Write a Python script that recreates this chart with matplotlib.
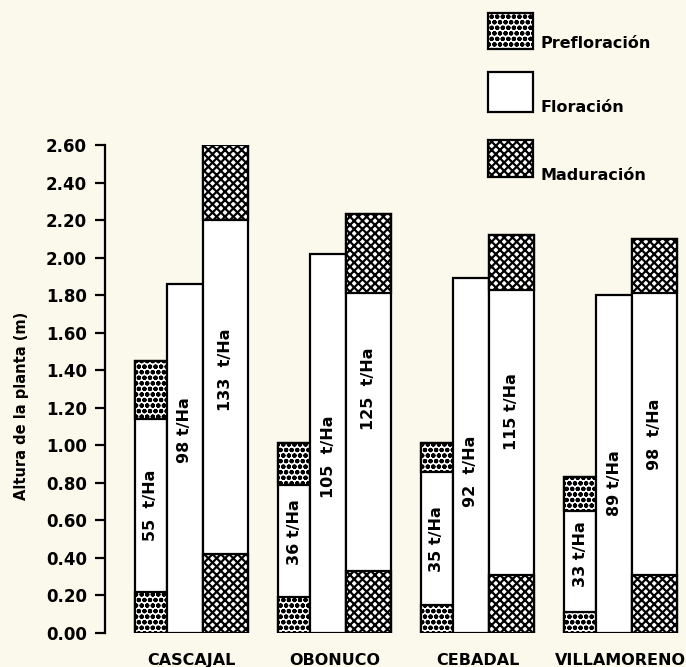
import matplotlib
matplotlib.use("Agg")
import matplotlib.pyplot as plt
from matplotlib.patches import Rectangle

plt.rcParams['font.family'] = ['DejaVu Sans']
plt.rcParams['font.weight'] = 'bold'
plt.rcParams['axes.labelweight'] = 'bold'

# data (plant height in m)
sites = ['CASCAJAL', 'OBONUCO', 'CEBADAL', 'VILLAMORENO']
pre_top = [1.45, 1.01, 1.01, 0.83]
pre_base = [0.22, 0.19, 0.15, 0.11]
pre_upper = [1.14, 0.79, 0.86, 0.65]
flo_top = [1.86, 2.02, 1.89, 1.80]
mad_top = [2.60, 2.23, 2.12, 2.10]
mad_base = [0.42, 0.33, 0.31, 0.31]
mad_upper = [2.20, 1.81, 1.83, 1.81]

pre_yield = ['55  t/Ha', '36 t/Ha', '35 t/Ha', '33 t/Ha']
flo_yield = ['98 t/Ha', '105  t/Ha', '92  t/Ha', '89 t/Ha']
mad_yield = ['133  t/Ha', '125  t/Ha', '115 t/Ha', '98  t/Ha']
pre_lab_y = [0.68, 0.54, 0.50, 0.42]
flo_lab_y = [1.08, 0.94, 0.86, 0.80]
mad_lab_y = [1.40, 1.30, 1.18, 1.06]

yticks = [0.0, 0.2, 0.4, 0.6, 0.8, 1.0, 1.2, 1.4, 1.6, 1.8, 2.0, 2.2, 2.4, 2.6]

bg = '#fbf9ec'
DOTS = 'ooo'
CROSS = 'xxxx'

fig = plt.figure(figsize=(6.86, 6.67), dpi=100, facecolor=bg)
ax = fig.add_axes([105 / 686, 34 / 667, 581 / 686, 488 / 667])
ax.set_facecolor(bg)

widths = [32, 36, 45]
step = 143
first = 30


def seg(x, w, y0, y1, hatch=None, hlw=1.0):
    plt.rcParams['hatch.linewidth'] = hlw
    ax.bar(x, y1 - y0, width=w, bottom=y0, align='edge', color='white',
           edgecolor='black', linewidth=1.6, hatch=hatch)


for i, name in enumerate(sites):
    x0 = first + i * step
    x1 = x0 + widths[0]
    x2 = x1 + widths[1]
    # bar 1: prefloracion
    seg(x0, widths[0], 0, pre_top[i])
    seg(x0, widths[0], 0, pre_base[i], DOTS, 1.5)
    seg(x0, widths[0], pre_upper[i], pre_top[i], DOTS, 1.5)
    # bar 2: floracion
    seg(x1, widths[1], 0, flo_top[i])
    # bar 3: maduracion
    seg(x2, widths[2], 0, mad_top[i])
    seg(x2, widths[2], 0, mad_base[i], CROSS, 1.6)
    seg(x2, widths[2], mad_upper[i], mad_top[i], CROSS, 1.6)

    ax.text(x0 + widths[0] / 2, pre_lab_y[i], pre_yield[i], rotation=90,
            ha='center', va='center', fontsize=11.5)
    ax.text(x1 + widths[1] / 2, flo_lab_y[i], flo_yield[i], rotation=90,
            ha='center', va='center', fontsize=11.5)
    ax.text(x2 + widths[2] / 2, mad_lab_y[i], mad_yield[i], rotation=90,
            ha='center', va='center', fontsize=11.5)
    ax.text(x0 + sum(widths) / 2, -0.145, name, ha='center', va='center',
            fontsize=11.5)

ax.set_xlim(0, 581)
ax.set_ylim(0, 2.6)
ax.set_yticks(yticks)
ax.set_yticklabels([f'{v:.2f}' for v in yticks], fontsize=12)
ax.tick_params(axis='y', direction='out', length=7, width=1.6, pad=6)
ax.set_xticks([])
for s in ['top', 'right', 'bottom']:
    ax.spines[s].set_visible(False)
ax.spines['left'].set_linewidth(1.6)
ax.set_ylabel('Altura de la planta (m)', fontsize=10.5)
ax.yaxis.set_label_coords(-0.13, 0.465)

# legend drawn by hand in figure pixels
lg = fig.add_axes([0, 0, 1, 1])
lg.set_xlim(0, 686)
lg.set_ylim(667, 0)
lg.axis('off')
lg.patch.set_alpha(0)
legend_items = [('Prefloración', DOTS, 1.5, 13, 49, 43),
                ('Floración', None, 1.0, 72, 112, 107),
                ('Maduración', CROSS, 1.6, 140, 177, 176)]
for label, h, hlw, top, bot, ty in legend_items:
    plt.rcParams['hatch.linewidth'] = hlw
    lg.add_patch(Rectangle((488, top), 45, bot - top, facecolor='white',
                           edgecolor='black', linewidth=1.6, hatch=h))
    lg.text(540, ty, label, ha='left', va='center', fontsize=11.5)

fig.savefig('out.png', dpi=100, facecolor=bg)
